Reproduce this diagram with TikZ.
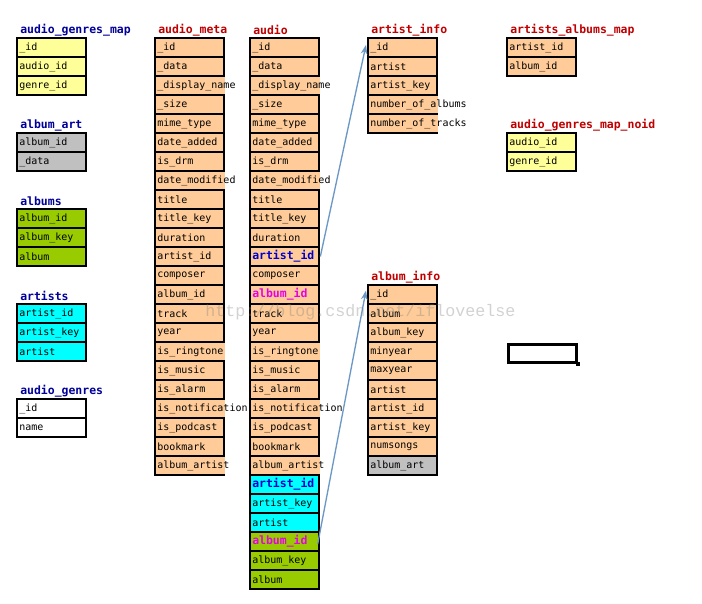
\documentclass[tikz,border=0pt]{standalone}
\usepackage{fontspec}
\setmonofont{DejaVu Sans Mono}
\newfontfamily\wmfont{Liberation Mono}
\usetikzlibrary{arrows.meta}
\definecolor{peach}{HTML}{FFCC99}
\definecolor{lyel}{HTML}{FFFF99}
\definecolor{lgray}{HTML}{C0C0C0}
\definecolor{lgreen}{HTML}{99CC00}
\definecolor{cyanf}{HTML}{00FFFF}
\definecolor{white0}{HTML}{FFFFFF}
\definecolor{navyt}{HTML}{000099}
\definecolor{redt}{HTML}{C00000}
\definecolor{bluet}{HTML}{0000CC}
\definecolor{magt}{HTML}{E600E6}
\definecolor{arrowc}{HTML}{6C98C6}
\newcommand\bcell[1]{{\fontsize{8.6}{10}\selectfont\bfseries #1}}
\tikzset{
  cellbox/.style={draw=black, line width=0.9pt, inner sep=0pt, outer sep=0pt,
    minimum width=69*0.75pt, minimum height=19*0.75pt, anchor=north west},
  celltext/.style={inner sep=0pt, anchor=west, font=\ttfamily\fontsize{7.5}{9}\selectfont},
  titletext/.style={inner sep=0pt, anchor=west, font=\ttfamily\bfseries\fontsize{8.6}{10}\selectfont},
  link/.style={draw=arrowc, line width=1pt, -{Stealth[length=7pt, width=5pt]}},
}
% #1 name, #2 x, #3 title y, #4 title colour, #5 title, #6 rows text/fill/overflow
\newcommand\mktable[6]{%
  \node[titletext, text=#4] (#1-title) at (#2+3,#3) {#5};
  \foreach \txt/\fc/\ov [count=\i] in {#6} {
    \pgfmathsetmacro\ya{#3+8+(\i-1)*19}
    \node[cellbox, fill=\fc] (#1-\i) at (#2,\ya) {};
    \ifnum\ov=1
      \draw[\fc, line width=1.2pt] ([yshift=-0.6pt]#1-\i.north east) -- ([yshift=0.6pt]#1-\i.south east);
    \fi
    \node[celltext] (#1-\i-t) at ([xshift=1.5pt]#1-\i.west) {\txt};
  }
}
\begin{document}
\begin{tikzpicture}[x=0.75pt, y=-0.75pt]
\useasboundingbox[fill=white] (0,0) rectangle (702,603);

\mktable{agm}{17}{30}{navyt}{audio\_genres\_map}{\_id/lyel/0, audio\_id/lyel/0, genre\_id/lyel/0}
\mktable{aart}{17}{125}{navyt}{album\_art}{album\_id/lgray/0, \_data/lgray/0}
\mktable{albums}{17}{201}{navyt}{albums}{album\_id/lgreen/0, album\_key/lgreen/0, album/lgreen/0}
\mktable{artists}{17}{296}{navyt}{artists}{artist\_id/cyanf/0, artist\_key/cyanf/0, artist/cyanf/0}
\mktable{ag}{17}{391}{navyt}{audio\_genres}{\_id/white0/0, name/white0/0}

\mktable{meta}{155}{30}{redt}{audio\_meta}{\_id/peach/0, \_data/peach/0, \_display\_name/peach/1, \_size/peach/0, mime\_type/peach/0, date\_added/peach/0, is\_drm/peach/0, date\_modified/peach/1, title/peach/0, title\_key/peach/0, duration/peach/0, artist\_id/peach/0, composer/peach/0, album\_id/peach/0, track/peach/0, year/peach/0, is\_ringtone/peach/1, is\_music/peach/0, is\_alarm/peach/0, is\_notification/peach/1, is\_podcast/peach/0, bookmark/peach/0, album\_artist/peach/1}

\mktable{audio}{250}{30}{redt}{audio}{\_id/peach/0, \_data/peach/0, \_display\_name/peach/1, \_size/peach/0, mime\_type/peach/0, date\_added/peach/0, is\_drm/peach/0, date\_modified/peach/1, title/peach/0, title\_key/peach/0, duration/peach/0, {\color{bluet}\bcell{artist\_id}}/peach/0, composer/peach/0, {\color{magt}\bcell{album\_id}}/peach/0, track/peach/0, year/peach/0, is\_ringtone/peach/1, is\_music/peach/0, is\_alarm/peach/0, is\_notification/peach/1, is\_podcast/peach/0, bookmark/peach/0, album\_artist/peach/1, {\color{bluet}\bcell{artist\_id}}/cyanf/0, artist\_key/cyanf/0, artist/cyanf/0, {\color{magt}\bcell{album\_id}}/lgreen/0, album\_key/lgreen/0, album/lgreen/0}

\mktable{ainfo}{368}{30}{redt}{artist\_info}{\_id/peach/0, artist/peach/0, artist\_key/peach/0, number\_of\_albums/peach/1, number\_of\_tracks/peach/1}
\mktable{aam}{507}{30}{redt}{artists\_albums\_map}{artist\_id/peach/0, album\_id/peach/0}
\mktable{agmn}{507}{125}{redt}{audio\_genres\_map\_noid}{audio\_id/lyel/0, genre\_id/lyel/0}
\mktable{binfo}{368}{277}{redt}{album\_info}{\_id/peach/0, album/peach/0, album\_key/peach/0, minyear/peach/0, maxyear/peach/0, artist/peach/0, artist\_id/peach/0, artist\_key/peach/0, numsongs/peach/0, album\_art/lgray/0}

% selected cell
\node[draw=black, line width=2.25pt, inner sep=0pt, minimum width=68*0.75pt, minimum height=18*0.75pt, anchor=north west] (sel) at (507,343) {};
\node[fill=black, inner sep=0pt, minimum size=4.5*0.75pt] (selhandle) at (sel.south east) {};

% connectors
\draw[link] ([xshift=1pt]audio-12.east) -- ([yshift=2pt,xshift=-1.5pt]ainfo-1.west);
\draw[link] ([xshift=-1pt,yshift=-2pt]audio-27.east) -- ([yshift=3pt,xshift=-1.5pt]binfo-1.west);

% watermark
\node[inner sep=0pt, anchor=west, text=gray, opacity=0.35, font=\wmfont\fontsize{12.5}{14}\selectfont] (wm) at (205,312) {http://blog.csdn.net/ifloveelse};
\end{tikzpicture}
\end{document}
